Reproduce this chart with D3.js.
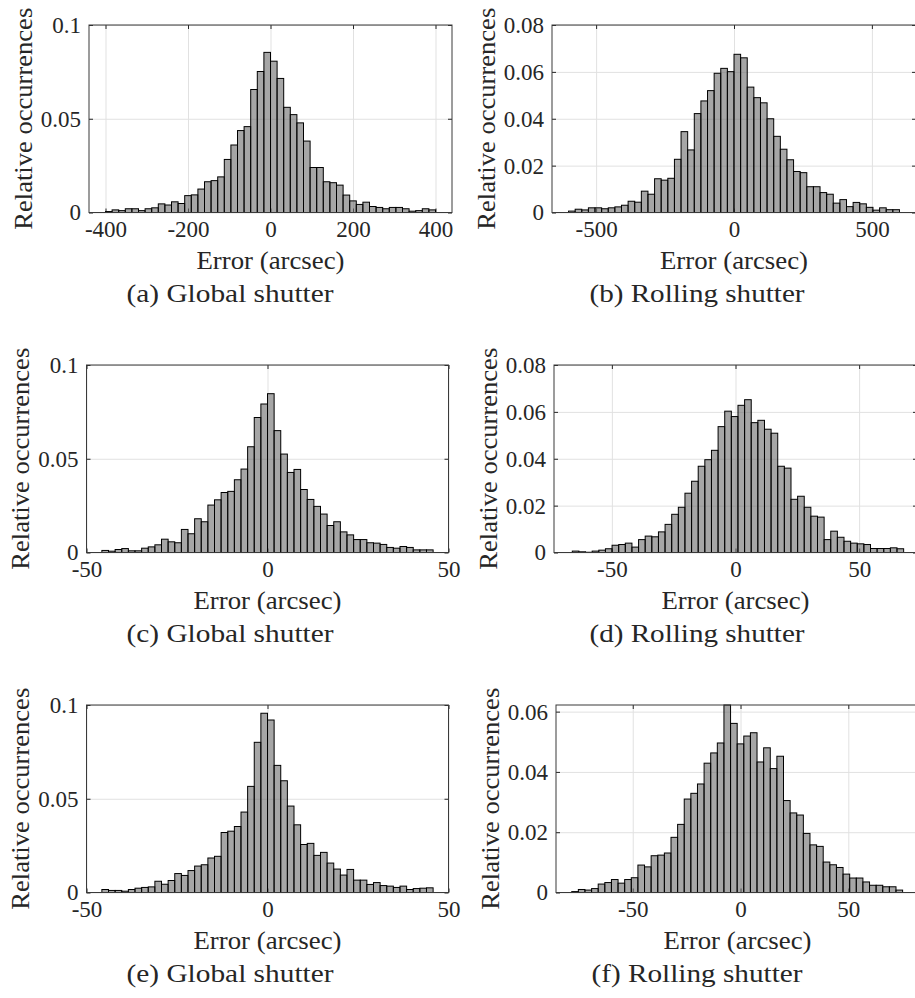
<!DOCTYPE html>
<html lang="en">
<meta charset="utf-8">
<style>
  body { margin: 0; background: #fff; }
  text { font-family: "Liberation Serif", "Times New Roman", serif; fill: #262626; }
</style>
<body>
<div id="my_dataviz"></div>

<script src="https://d3js.org/d3.v7.min.js"></script>

<script>

// relative occurrences per bin, left to right (50 bins each)
var aValues = [0.0005, 0.0014, 0.001, 0.002, 0.002, 0.001, 0.002, 0.0025, 0.0046, 0.004,
  0.0057, 0.0048, 0.009, 0.0094, 0.0125, 0.0164, 0.017, 0.019, 0.0283, 0.036,
  0.0437, 0.0458, 0.0656, 0.0752, 0.0854, 0.0807, 0.0715, 0.0561, 0.0522, 0.0478,
  0.0381, 0.024, 0.024, 0.0164, 0.0159, 0.0146, 0.0093, 0.0062, 0.0043, 0.0055,
  0.0032, 0.0027, 0.002, 0.0027, 0.0027, 0.002, 0.0007, 0.001, 0.002, 0.0014];
var bValues = [0.0006, 0.0014, 0.0011, 0.002, 0.002, 0.0016, 0.002, 0.0024, 0.0031, 0.0048,
  0.0044, 0.0091, 0.0078, 0.0144, 0.0138, 0.0146, 0.0227, 0.0345, 0.0267, 0.0422,
  0.0476, 0.052, 0.0594, 0.0615, 0.0601, 0.0675, 0.066, 0.0535, 0.049, 0.0468,
  0.040, 0.0325, 0.027, 0.0225, 0.0175, 0.017, 0.011, 0.011, 0.0085, 0.0078,
  0.004, 0.0055, 0.0025, 0.0043, 0.0037, 0.0022, 0.001, 0.002, 0.0012, 0.0012];
var cValues = [0.0011, 0.0007, 0.0016, 0.0021, 0.0009, 0.0009, 0.0023, 0.003, 0.0041, 0.0071,
  0.0057, 0.0052, 0.0123, 0.01, 0.018, 0.0164, 0.0253, 0.0281, 0.032, 0.0326,
  0.0388, 0.0445, 0.0564, 0.072, 0.0792, 0.0847, 0.065, 0.0525, 0.0427, 0.0443,
  0.0336, 0.0283, 0.0246, 0.0205, 0.0144, 0.0164, 0.011, 0.0094, 0.0069, 0.0069,
  0.0052, 0.005, 0.0043, 0.0027, 0.0023, 0.0032, 0.0027, 0.0014, 0.0014, 0.0014];
var dValues = [0.0006, 0.0003, 0.0001, 0.0006, 0.001, 0.0016, 0.0031, 0.0034, 0.004, 0.0023,
  0.0055, 0.007, 0.0067, 0.0088, 0.012, 0.0163, 0.0193, 0.0253, 0.0304, 0.0368,
  0.0396, 0.0436, 0.0537, 0.0603, 0.058, 0.0628, 0.0652, 0.0554, 0.0564, 0.0526,
  0.0509, 0.0368, 0.036, 0.0227, 0.024, 0.0193, 0.0155, 0.0151, 0.0055, 0.0091,
  0.0065, 0.0048, 0.004, 0.0037, 0.0034, 0.0017, 0.0017, 0.0017, 0.002, 0.0016];
var eValues = [0.0016, 0.0011, 0.0011, 0.0007, 0.0016, 0.0023, 0.0027, 0.003, 0.006, 0.0044,
  0.0064, 0.0101, 0.0091, 0.0117, 0.0141, 0.0148, 0.0184, 0.0193, 0.032, 0.0327,
  0.0352, 0.0429, 0.0566, 0.0801, 0.0956, 0.092, 0.0678, 0.0596, 0.0461, 0.0361,
  0.0256, 0.0262, 0.0198, 0.0214, 0.0157, 0.0125, 0.0093, 0.0123, 0.0066, 0.0066,
  0.0043, 0.0053, 0.0037, 0.0034, 0.0027, 0.0034, 0.0016, 0.0021, 0.0023, 0.0025];
var fValues = [0.0003, 0.001, 0.0008, 0.0013, 0.0028, 0.0033, 0.0043, 0.0031, 0.0043, 0.0049,
  0.0091, 0.0085, 0.0122, 0.0124, 0.0131, 0.0183, 0.0226, 0.031, 0.0329, 0.036,
  0.0429, 0.0463, 0.0496, 0.0622, 0.0561, 0.0493, 0.0519, 0.053, 0.0433, 0.048,
  0.0411, 0.0452, 0.0305, 0.0264, 0.0257, 0.0196, 0.0158, 0.0153, 0.0101, 0.0092,
  0.0083, 0.0061, 0.0048, 0.0048, 0.0035, 0.0024, 0.0024, 0.0019, 0.0019, 0.0008];

// first bin edge and bin width (arcsec)
var binStarts = [-400, -600, -45.75, -66, -45.75, -78.3];
var binWidths = [16, 24, 1.83, 2.68, 1.83, 3.07];

// x axis limits (arcsec)
var xLimits = [[-440, 440], [-660, 660], [-50, 50], [-73.4, 73.4], [-50, 50], [-85.6, 82.8]];

// tick values
var aXTicks = [-400, -200, 0, 200, 400];
var bXTicks = [-500, 0, 500];
var smallXTicks = [-50, 0, 50];
var globalYTicks = [0, 0.05, 0.1];
var rollingYTicks = [0, 0.02, 0.04, 0.06, 0.08];
var fYTicks = [0, 0.02, 0.04, 0.06];

var captions = ["(a) Global shutter", "(b) Rolling shutter", "(c) Global shutter",
  "(d) Rolling shutter", "(e) Global shutter", "(f) Rolling shutter"];

var xLabel = "Error (arcsec)";
var yLabel = "Relative occurrences";

// layout
var plotH = 187.5;
var lefts = [89, 552, 86.5, 554, 86.5, 556];
var tops = [25, 25, 365, 365, 705, 705];
var widths = [363, 364, 362, 363, 362, 363];
var captionX = [230, 697];
var captionLen = [207, 215, 207, 215, 207, 211];

var panels = [
  {values: aValues, xTicks: aXTicks, yTicks: globalYTicks, yMax: 0.1},
  {values: bValues, xTicks: bXTicks, yTicks: rollingYTicks, yMax: 0.08},
  {values: cValues, xTicks: smallXTicks, yTicks: globalYTicks, yMax: 0.1},
  {values: dValues, xTicks: smallXTicks, yTicks: rollingYTicks, yMax: 0.08},
  {values: eValues, xTicks: smallXTicks, yTicks: globalYTicks, yMax: 0.1},
  {values: fValues, xTicks: smallXTicks, yTicks: fYTicks, yMax: d3.max(fValues)}
];

var svg = d3.select("#my_dataviz")
  .append("svg")
    .attr("width", 915)
    .attr("height", 998)
    .style("display", "block")
    .style("background", "#fff");

panels.forEach(function(p, k) {
  var w = widths[k];
  var g = svg.append("g")
    .attr("transform", "translate(" + lefts[k] + "," + tops[k] + ")");

  var x = d3.scaleLinear().domain(xLimits[k]).range([0, w]);
  var y = d3.scaleLinear().domain([0, p.yMax]).range([plotH, 0]);
  var fmt = function(d) { return String(d); };

  // grid lines
  g.append("g")
    .attr("transform", "translate(0," + plotH + ")")
    .call(d3.axisBottom(x).tickValues(p.xTicks).tickSize(-plotH).tickFormat(""))
    .call(function(s) { s.select(".domain").remove(); })
    .selectAll("line").attr("stroke", "#e1e1e1");
  g.append("g")
    .call(d3.axisLeft(y).tickValues(p.yTicks).tickSize(-w).tickFormat(""))
    .call(function(s) { s.select(".domain").remove(); })
    .selectAll("line").attr("stroke", "#e1e1e1");

  // inward tick marks on all four sides
  var tl = 4;
  var bottom = g.append("g")
    .attr("transform", "translate(0," + plotH + ")")
    .call(d3.axisBottom(x).tickValues(p.xTicks).tickSizeInner(-tl).tickSizeOuter(0)
      .tickPadding(8).tickFormat(fmt));
  g.append("g")
    .call(d3.axisTop(x).tickValues(p.xTicks).tickSizeInner(-tl).tickSizeOuter(0).tickFormat(""));
  var left = g.append("g")
    .call(d3.axisLeft(y).tickValues(p.yTicks).tickSizeInner(-tl).tickSizeOuter(0)
      .tickPadding(8).tickFormat(fmt));
  g.append("g")
    .attr("transform", "translate(" + w + ",0)")
    .call(d3.axisRight(y).tickValues(p.yTicks).tickSizeInner(-tl).tickSizeOuter(0).tickFormat(""));

  g.selectAll(".domain").remove();
  g.selectAll(".tick line").filter(function() { return d3.select(this).attr("stroke") !== "#e1e1e1"; })
    .attr("stroke", "#262626");
  [bottom, left].forEach(function(a) {
    a.attr("font-size", 23)
     .attr("font-family", "'Liberation Serif', 'Times New Roman', serif")
     .attr("color", "#262626");
  });

  // bars
  g.selectAll("rect.bar")
    .data(p.values)
    .enter()
    .append("rect")
      .attr("class", "bar")
      .attr("x", function(d, i) { return x(binStarts[k] + i * binWidths[k]); })
      .attr("width", function(d, i) {
        return x(binStarts[k] + (i + 1) * binWidths[k]) - x(binStarts[k] + i * binWidths[k]);
      })
      .attr("y", function(d) { return y(d); })
      .attr("height", function(d) { return plotH - y(d); })
      .style("fill", "#6b6b6b")
      .style("fill-opacity", 0.6)
      .style("stroke", "#000")
      .style("stroke-width", 1);

  // box
  g.append("rect")
    .attr("x", 0).attr("y", 0)
    .attr("width", w).attr("height", plotH)
    .style("fill", "none")
    .style("stroke", "#3a3a3a")
    .style("stroke-width", 1);

  // labels
  g.append("text")
    .attr("x", w / 2)
    .attr("y", plotH + 56)
    .attr("text-anchor", "middle")
    .attr("font-size", 24.5)
    .attr("textLength", 148)
    .attr("lengthAdjust", "spacingAndGlyphs")
    .text(xLabel);

  g.append("text")
    .attr("transform", "translate(-57.5," + (plotH / 2) + ") rotate(-90)")
    .attr("text-anchor", "middle")
    .attr("font-size", 24.5)
    .attr("textLength", 222)
    .attr("lengthAdjust", "spacingAndGlyphs")
    .text(yLabel);

  svg.append("text")
    .attr("x", captionX[k % 2])
    .attr("y", tops[k] + 276.5)
    .attr("text-anchor", "middle")
    .attr("font-size", 26)
    .attr("textLength", captionLen[k])
    .attr("lengthAdjust", "spacingAndGlyphs")
    .text(captions[k]);
});

</script>

</body>
</html>
